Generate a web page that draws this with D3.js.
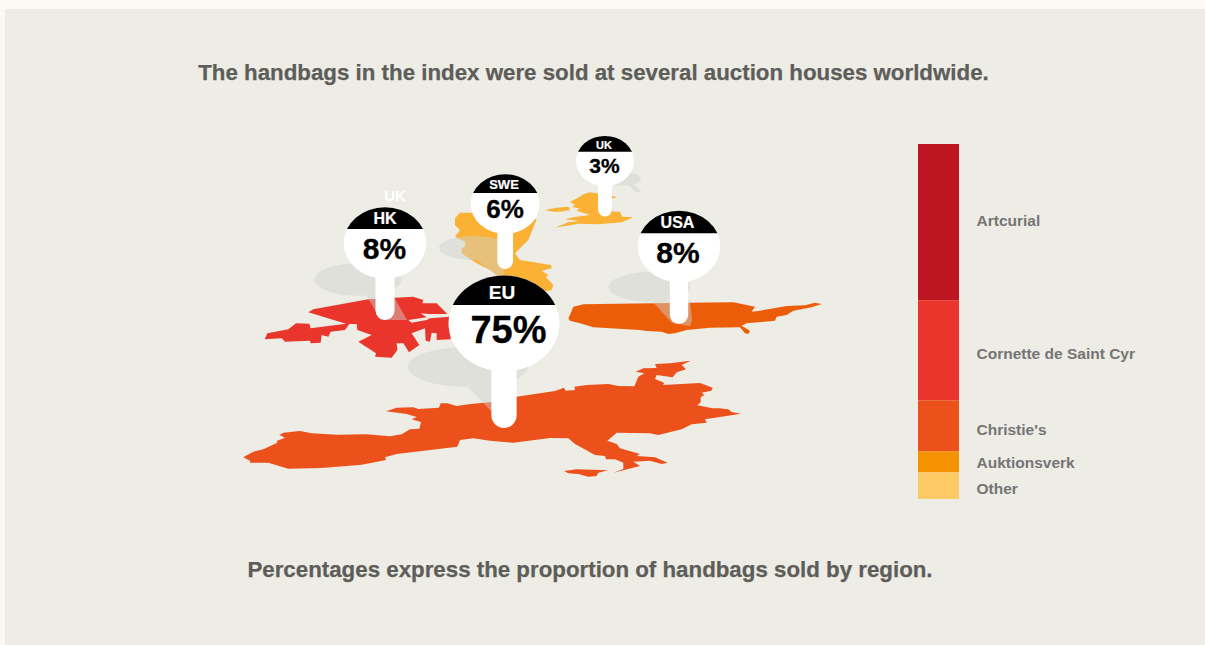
<!DOCTYPE html>
<html>
<head>
<meta charset="utf-8">
<script src="https://cdn.jsdelivr.net/npm/d3@7"></script>
<style>
  html, body { margin: 0; padding: 0; background: #fafaf2; overflow: hidden; }
  svg { display: block; font-family: "Liberation Sans", Arial, sans-serif; font-weight: bold; }
</style>
</head>
<body>
<div id="chart"></div>
<script>
// Auction houses: share of handbags sold, in percent, stacked top to bottom
const houses = ["Artcurial", "Cornette de Saint Cyr", "Christie's", "Auktionsverk", "Other"];
const houseShares = [44, 28.2, 14.4, 5.9, 7.5];
const houseColors = ["#bd1622", "#e9352b", "#ec501b", "#f59200", "#fdca66"];
const houseLabelY = [226, 359, 435, 468, 493.5];

// Regions: share of handbags sold, in percent
const regions = ["HK", "SWE", "UK", "USA", "EU"];
const regionShares = [8, 6, 3, 8, 75];

// Where each pin stands, with its head centre, stem foot and text baselines
const pinX = [385, 505.2, 605, 679, 504];
const pinHeadY = [243, 204, 161, 246.5, 323.5];
const pinFootY = [320, 269, 216.5, 324, 428];
const pinStemW = [19, 15.7, 14, 18.4, 25.3];
const pinCapY = [229, 193, 151.7, 233.3, 305];
const pinLabelX = [385, 504, 604, 677.5, 502];
const pinLabelY = [224.3, 189, 149.3, 228.3, 299];
const pinValueX = [384.5, 505, 604.5, 678, 508.5];
const pinValueY = [259.3, 218, 173, 263, 343];
const pinLabelSize = [16, 13, 11, 16, 19];
const pinValueSize = [30, 26, 21, 30, 38];

// Ground shadows cast by the pins: ellipse [cx, cy, rx, ry] and the tail to the stem foot
const shadowEllipses = [[358, 279.5, 43.5, 16.2], [474, 248, 35, 12], [622, 179, 19, 7], [649.5, 287, 41, 15], [468, 367, 60, 20]];
const shadowTails = [
  [[366, 295], [381, 320], [407, 320], [393, 295]],
  [[476, 259], [503, 281], [505, 255]],
  [[625, 181.7], [636.7, 192.7], [641.7, 191.7], [630, 181.7]],
  [[652, 301], [672, 323], [690, 326], [692, 320], [690, 300]],
  [[467, 386], [491, 411], [504, 411], [504, 385]]
];

// Region outlines, each in its own tilted map units
const outlineEU = [[10,352],[40,335],[70,328],[112,308],[110,303],[135,293],[118,285],[130,278],[180,273],[215,280],[290,284],[380,283],[450,289],[485,283],[510,268],[538,266],[543,246],[515,238],[530,231],[500,222],[438,214],[470,203],[520,202],[535,207],[597,203],[602,190],[622,190],[650,198],[685,193],[755,186],[830,170],[945,153],[972,143],[977,152],[1005,150],[1003,140],[1040,135],[1105,132],[1135,138],[1183,139],[1195,110],[1213,100],[1187,95],[1210,85],[1250,84],[1245,72],[1290,70],[1352,62],[1325,75],[1338,88],[1310,97],[1298,112],[1250,105],[1245,117],[1272,128],[1270,135],[1380,129],[1418,143],[1414,152],[1385,158],[1393,165],[1382,172],[1382,187],[1372,196],[1418,205],[1437,205],[1465,208],[1475,216],[1503,221],[1395,238],[1400,248],[1355,253],[1325,268],[1255,285],[1230,280],[1130,278],[1102,302],[1130,312],[1140,325],[1200,342],[1190,348],[1245,352],[1283,368],[1265,372],[1230,362],[1180,365],[1200,378],[1165,387],[1120,398],[1150,387],[1150,368],[1125,358],[1098,358],[1095,348],[1065,345],[1005,312],[985,295],[930,294],[820,308],[750,302],[700,295],[660,300],[652,320],[470,342],[435,352],[438,360],[365,374],[320,378],[245,384],[145,386],[85,368],[30,368],[30,362]];
const outlineEUIsland = [[972,393],[1010,388],[1105,391],[1075,398],[1070,408],[1045,410],[1015,402],[985,400]];
const outlineHK = [[14,148],[22,130],[85,118],[108,100],[148,101],[152,115],[258,101],[145,67],[160,58],[325,28],[460,20],[490,30],[487,40],[530,40],[562,72],[505,72],[482,70],[500,82],[445,90],[455,98],[500,90],[510,85],[570,80],[572,148],[530,150],[530,130],[515,128],[510,155],[497,152],[495,115],[455,130],[478,165],[447,187],[430,160],[410,160],[412,180],[395,203],[345,200],[348,190],[295,155],[335,135],[292,120],[290,102],[268,102],[255,120],[212,125],[205,140],[185,135],[182,158],[152,160],[150,152],[75,155],[65,145]];
const outlineSWE = [[45,38],[30,55],[30,75],[45,90],[30,110],[60,125],[60,140],[50,145],[50,160],[95,190],[135,210],[175,240],[270,280],[320,270],[325,255],[303,232],[310,225],[290,212],[320,205],[318,195],[225,180],[210,160],[225,145],[250,120],[257,102],[275,58],[200,40],[85,38]];
const outlineUK = [[90,110],[112,100],[130,88],[150,82],[178,86],[215,92],[230,97],[212,102],[218,140],[240,140],[246,155],[280,157],[245,172],[175,178],[115,176],[45,188],[85,172],[120,168],[75,163],[100,157],[150,150],[110,137],[118,130],[97,126],[105,120]];
const outlineUKIsland = [[15,135],[50,128],[85,125],[90,135],[60,140],[40,140]];
const outlineUSA = [[40,50],[70,43],[280,40],[380,38],[520,37],[585,50],[575,65],[600,62],[680,48],[735,46],[765,38],[785,42],[755,52],[700,62],[680,75],[650,80],[645,92],[560,100],[545,107],[570,122],[565,132],[555,130],[540,112],[450,113],[380,120],[345,130],[325,132],[305,125],[260,123],[240,120],[100,112],[60,100],[30,92],[25,85],[32,70]];

const W = 1205, H = 645;
const svg = d3.select("#chart").append("svg").attr("width", W).attr("height", H);

// Panel behind everything
svg.append("rect").attr("x", 5).attr("y", 9).attr("width", W - 5).attr("height", H - 9).attr("fill", "#edece5");

// Headline and footnote
svg.append("text").attr("x", 593.5).attr("y", 80).attr("text-anchor", "middle")
  .attr("font-size", 22.3).attr("fill", "#5d5d5a").attr("stroke", "#5d5d5a").attr("stroke-width", 0.25)
  .text("The handbags in the index were sold at several auction houses worldwide.");
svg.append("text").attr("x", 590).attr("y", 577).attr("text-anchor", "middle")
  .attr("font-size", 22.3).attr("fill", "#5d5d5a").attr("stroke", "#5d5d5a").attr("stroke-width", 0.25)
  .text("Percentages express the proportion of handbags sold by region.");

// Map layer: every outline goes through a pair of linear scales
function drawOutline(points, domainX, rangeX, domainY, rangeY, color) {
  const x = d3.scaleLinear().domain(domainX).range(rangeX);
  const y = d3.scaleLinear().domain(domainY).range(rangeY);
  const line = d3.line().x(d => x(d[0])).y(d => y(d[1])).curve(d3.curveLinearClosed);
  svg.append("path").attr("d", line(points)).attr("fill", color);
}
drawOutline(outlineEU, [0, 1560], [240, 760], [0, 450], [340, 490], "#ec501b");
drawOutline(outlineEUIsland, [0, 1560], [240, 760], [0, 450], [340, 490], "#ec501b");
drawOutline(outlineHK, [0, 600], [260, 460], [0, 225], [290, 365], "#e9352b");
drawOutline(outlineSWE, [0, 360], [445, 565], [0, 300], [200, 300], "#fbb134");
drawOutline(outlineUK, [0, 330], [540, 650], [0, 210], [165, 235], "#fbb134");
drawOutline(outlineUKIsland, [0, 330], [540, 650], [0, 210], [165, 235], "#fbb134");
drawOutline(outlineUSA, [0, 810], [560, 830], [0, 150], [290, 340], "#ec5d0a");

// Shadows sit over the map and tint it; group opacity keeps overlaps even
const tailLine = d3.line().curve(d3.curveLinearClosed);
const shadows = svg.append("g").attr("fill", "rgb(209,212,207)").attr("opacity", 0.46);
shadows.selectAll("ellipse").data(shadowEllipses).join("ellipse")
  .attr("cx", d => d[0]).attr("cy", d => d[1]).attr("rx", d => d[2]).attr("ry", d => d[3]);
shadows.selectAll("path").data(shadowTails).join("path").attr("d", d => tailLine(d));

// Stray label above the Hong Kong pin
svg.append("text").attr("x", 395).attr("y", 201).attr("text-anchor", "middle")
  .attr("font-size", 15).attr("fill", "#ffffff").text("UK");

// Pin head width grows with the region's share
const headRadius = d3.scaleLinear().domain([3, 6, 8, 75]).range([29, 34.5, 41.3, 55.5]);
const headSquash = 0.865;

const defs = svg.append("defs");
regions.forEach((name, i) => {
  const share = regionShares[i];
  const rx = headRadius(share), ry = rx * headSquash;
  const cx = pinX[i], cy = pinHeadY[i];
  const pin = svg.append("g");

  pin.append("rect")
    .attr("x", cx - pinStemW[i] / 2).attr("width", pinStemW[i])
    .attr("y", cy).attr("height", pinFootY[i] - cy)
    .attr("rx", pinStemW[i] / 2).attr("fill", "#ffffff");
  pin.append("ellipse")
    .attr("cx", cx).attr("cy", cy).attr("rx", rx).attr("ry", ry).attr("fill", "#ffffff");

  // Black cap: the part of the head above the chord
  defs.append("clipPath").attr("id", "cap" + i).append("rect")
    .attr("x", cx - rx - 1).attr("width", 2 * rx + 2)
    .attr("y", cy - ry - 1).attr("height", pinCapY[i] - (cy - ry - 1));
  pin.append("ellipse")
    .attr("cx", cx).attr("cy", cy).attr("rx", rx).attr("ry", ry)
    .attr("fill", "#000000").attr("clip-path", `url(#cap${i})`);

  pin.append("text").attr("x", pinLabelX[i]).attr("y", pinLabelY[i]).attr("text-anchor", "middle")
    .attr("font-size", pinLabelSize[i]).attr("fill", "#ffffff")
    .attr("stroke", "#ffffff").attr("stroke-width", 0.2).text(name);
  pin.append("text").attr("x", pinValueX[i]).attr("y", pinValueY[i]).attr("text-anchor", "middle")
    .attr("font-size", pinValueSize[i]).attr("fill", "#000000")
    .attr("stroke", "#000000").attr("stroke-width", 0.3).text(share + "%");
});

// Stacked auction-house bar
const barY = d3.scaleLinear().domain([0, d3.sum(houseShares)]).range([144, 499]);
const cumulative = d3.cumsum(houseShares);
svg.selectAll("rect.house").data(houses).join("rect").attr("class", "house")
  .attr("x", 918).attr("width", 41)
  .attr("y", (d, i) => barY(i ? cumulative[i - 1] : 0))
  .attr("height", (d, i) => barY(cumulative[i]) - barY(i ? cumulative[i - 1] : 0))
  .attr("fill", (d, i) => houseColors[i]);
svg.selectAll("text.house").data(houses).join("text").attr("class", "house")
  .attr("x", 976.5).attr("y", (d, i) => houseLabelY[i])
  .attr("font-size", 15.5).attr("fill", "#757575").text(d => d);
</script>
</body>
</html>
